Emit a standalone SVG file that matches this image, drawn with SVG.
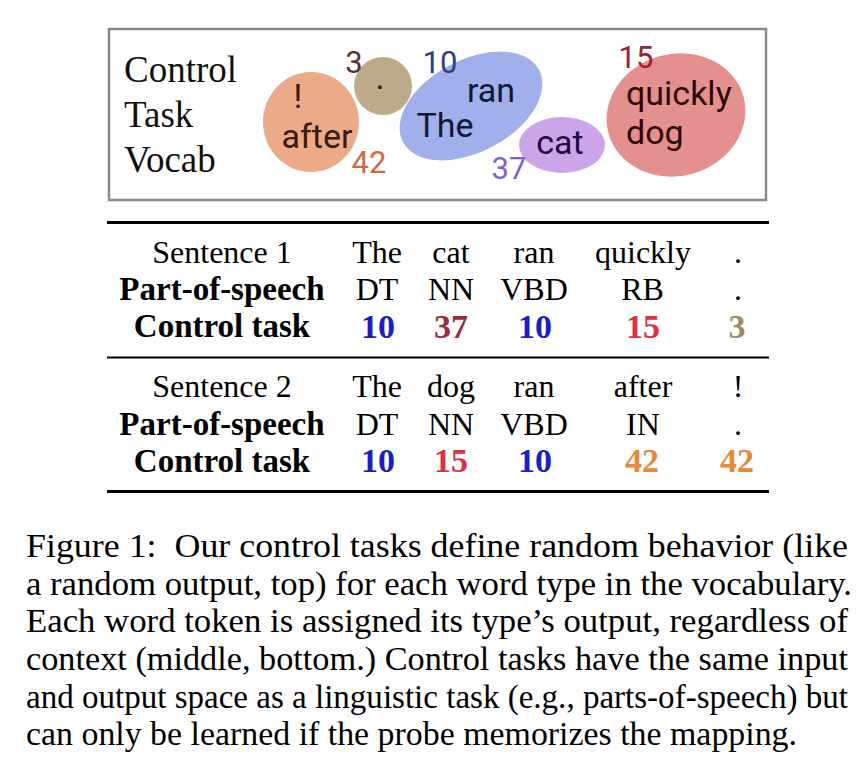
<svg xmlns="http://www.w3.org/2000/svg" width="868" height="768" viewBox="0 0 868 768">
<style>
.serif{font-family:"Liberation Serif","Times New Roman",serif;}
.sans{font-family:Roboto,"Liberation Sans",Arial,sans-serif;}
.vocab{font-size:37px;fill:#111;}
.word{font-size:34px;}
.num{font-size:31px;}
.tb{font-size:32px;text-anchor:middle;}
.lbl{font-size:33px;font-weight:bold;}
.n{font-size:34px;font-weight:bold;}
.cap{font-size:34px;fill:#000;}
.rule{stroke:#000;}
</style>
<rect width="868" height="768" fill="#fff"/>
<g id="vocab-box">
<rect x="109" y="29" width="657" height="171" fill="#fff" stroke="#8a8a8a" stroke-width="2.5"/>
<text class="serif vocab" x="124" y="82">Control</text>
<text class="serif vocab" x="124" y="127">Task</text>
<text class="serif vocab" x="124" y="172">Vocab</text>
</g>
<g id="node-42">
<ellipse cx="311" cy="122" rx="48" ry="50" fill="#EBAA88"/>
<text class="sans word" x="298" y="108" fill="#3a1a10" text-anchor="middle">!</text>
<text class="sans word" x="317" y="148" fill="#3a1a10" text-anchor="middle">after</text>
<text class="sans num" x="369" y="173" fill="#D06A40" text-anchor="middle">42</text>
</g>
<g id="node-3">
<circle cx="383" cy="86" r="29" fill="#BDAA8B"/>
<text class="sans word" x="380" y="89" fill="#2a1a10" text-anchor="middle" font-size="20">.</text>
<text class="sans num" x="354" y="73" fill="#5a3030" text-anchor="middle">3</text>
</g>
<g id="node-10">
<ellipse cx="471" cy="106" rx="77" ry="46" fill="#A1AFEA" transform="rotate(-28 471 106)"/>
<text class="sans num" x="440" y="73" fill="#2E3E80" text-anchor="middle">10</text>
<text class="sans word" x="491" y="102" fill="#101838" text-anchor="middle">ran</text>
<text class="sans word" x="445" y="137" fill="#101838" text-anchor="middle">The</text>
</g>
<g id="node-37">
<ellipse cx="562" cy="145" rx="43" ry="28" fill="#CCA4EA"/>
<text class="sans word" x="560" y="154" fill="#1e0a3a" text-anchor="middle">cat</text>
<text class="sans num" x="509" y="179" fill="#8060D0" text-anchor="middle">37</text>
</g>
<g id="node-15">
<ellipse cx="676" cy="115" rx="70" ry="61" fill="#E4908F" transform="rotate(-15 676 115)"/>
<text class="sans num" x="636" y="68" fill="#A02030" text-anchor="middle" font-size="30">15</text>
<text class="sans word" x="626" y="105" fill="#2e0808" font-size="33">quickly</text>
<text class="sans word" x="626" y="144" fill="#2e0808" font-size="33">dog</text>
</g>
<g id="table" fill="#000">
<line class="rule" x1="107" y1="222.5" x2="769" y2="222.5" stroke-width="3"/>
<line class="rule" x1="107" y1="357.5" x2="769" y2="357.5" stroke-width="2"/>
<line class="rule" x1="107" y1="491.5" x2="769" y2="491.5" stroke-width="3"/>
<g id="row-sentence1">
<text class="serif tb" x="222" y="263">Sentence 1</text>
<text class="serif tb" x="377" y="263">The</text>
<text class="serif tb" x="451" y="263">cat</text>
<text class="serif tb" x="534" y="263">ran</text>
<text class="serif tb" x="643" y="263">quickly</text>
<text class="serif tb" x="738" y="263">.</text>
</g>
<g id="row-pos1">
<text class="serif tb lbl" x="222" y="300">Part-of-speech</text>
<text class="serif tb" x="377" y="300">DT</text>
<text class="serif tb" x="451" y="300">NN</text>
<text class="serif tb" x="534" y="300">VBD</text>
<text class="serif tb" x="642.5" y="300">RB</text>
<text class="serif tb" x="738" y="300">.</text>
</g>
<g id="row-control1">
<text class="serif tb lbl" x="222" y="337">Control task</text>
<text class="serif tb n" x="378" y="338" fill="#1C1CC8">10</text>
<text class="serif tb n" x="451" y="338" fill="#A02840">37</text>
<text class="serif tb n" x="535" y="338" fill="#1C1CC8">10</text>
<text class="serif tb n" x="643" y="338" fill="#E0303C">15</text>
<text class="serif tb n" x="737" y="338" fill="#A08A68">3</text>
</g>
<g id="row-sentence2">
<text class="serif tb" x="222" y="397">Sentence 2</text>
<text class="serif tb" x="377" y="397">The</text>
<text class="serif tb" x="451" y="397">dog</text>
<text class="serif tb" x="534" y="397">ran</text>
<text class="serif tb" x="643" y="397">after</text>
<text class="serif tb" x="738" y="397">!</text>
</g>
<g id="row-pos2">
<text class="serif tb lbl" x="222" y="435">Part-of-speech</text>
<text class="serif tb" x="377" y="435">DT</text>
<text class="serif tb" x="451" y="435">NN</text>
<text class="serif tb" x="534" y="435">VBD</text>
<text class="serif tb" x="643" y="435">IN</text>
<text class="serif tb" x="738" y="435">.</text>
</g>
<g id="row-control2">
<text class="serif tb lbl" x="222" y="472">Control task</text>
<text class="serif tb n" x="378" y="472" fill="#1C1CC8">10</text>
<text class="serif tb n" x="451" y="472" fill="#E0303C">15</text>
<text class="serif tb n" x="535" y="472" fill="#1C1CC8">10</text>
<text class="serif tb n" x="642" y="472" fill="#E8883A">42</text>
<text class="serif tb n" x="737" y="472" fill="#E8883A">42</text>
</g>
</g>
<g id="caption">
<text class="serif cap" x="26" y="557" textLength="822" lengthAdjust="spacingAndGlyphs" xml:space="preserve">Figure 1:  Our control tasks define random behavior (like</text>
<text class="serif cap" x="26" y="595" textLength="826" lengthAdjust="spacingAndGlyphs">a random output, top) for each word type in the vocabulary.</text>
<text class="serif cap" x="26" y="632" textLength="822" lengthAdjust="spacingAndGlyphs">Each word token is assigned its type’s output, regardless of</text>
<text class="serif cap" x="26" y="670" textLength="822" lengthAdjust="spacingAndGlyphs">context (middle, bottom.) Control tasks have the same input</text>
<text class="serif cap" x="26" y="708" textLength="822" lengthAdjust="spacingAndGlyphs">and output space as a linguistic task (e.g., parts-of-speech) but</text>
<text class="serif cap" x="26" y="745" textLength="771" lengthAdjust="spacingAndGlyphs">can only be learned if the probe memorizes the mapping.</text>
</g>
</svg>
